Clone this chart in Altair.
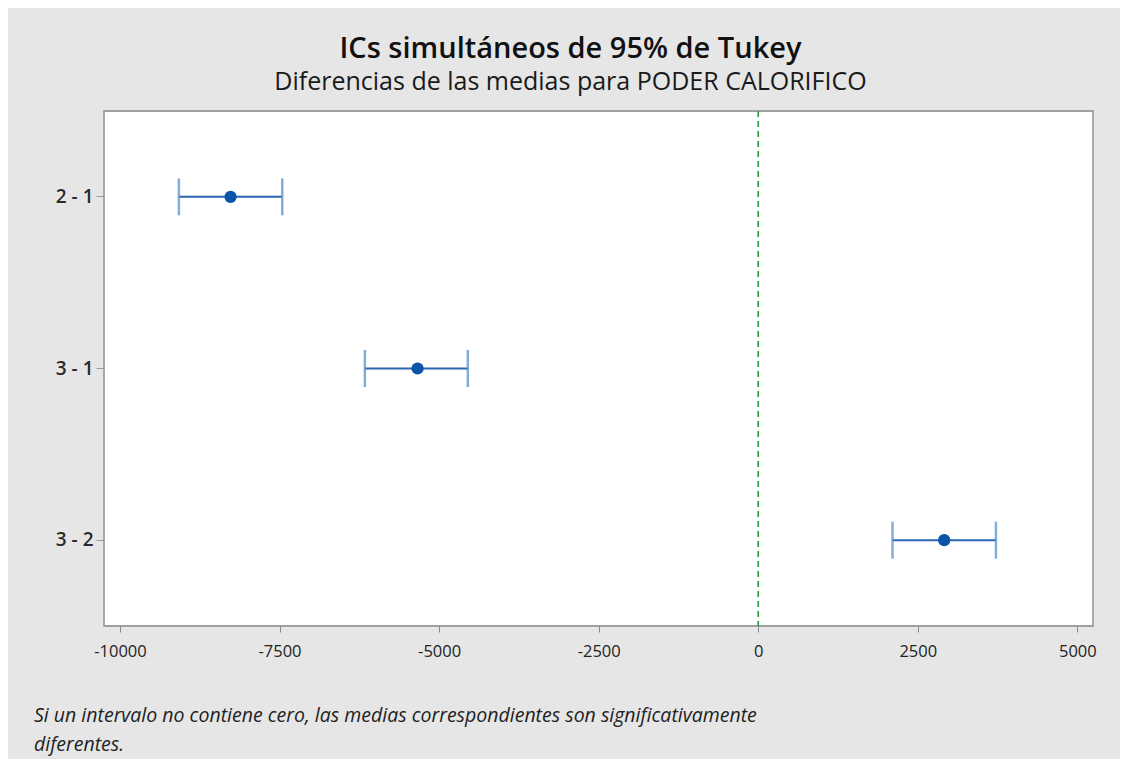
import altair as alt
import pandas as pd

pairs = ["2 - 1", "3 - 1", "3 - 2"]
centers = [-8267, -5337, 2914]
lows = [-9077, -6163, 2104]
highs = [-7457, -4550, 3724]
x_ticks = [-10000, -7500, -5000, -2500, 0, 2500, 5000]

df = pd.DataFrame({"par": pairs, "centro": centers, "inf": lows, "sup": highs})
zero_df = pd.DataFrame({"cero": [0]})
note_df = pd.DataFrame({"nota": ["Si un intervalo no contiene cero, las medias correspondientes son significativamente"]})
note2_df = pd.DataFrame({"nota": ["diferentes."]})

FONT = "Open Sans"
PW, PH = 989, 515

xscale = alt.Scale(domain=[-10250, 5245], nice=False, zero=False)
yscale = alt.Scale(type="band", domain=pairs, paddingInner=0, paddingOuter=0)

xaxis = alt.Axis(values=x_ticks, title=None, grid=False, domain=False, tickSize=6,
                 tickColor="#888888", labelFont=FONT, labelFontSize=16.5, labelColor="#222222",
                 labelPadding=11,
                 labelExpr="datum.value < 0 ? '-' + abs(datum.value) : '' + datum.value")
yaxis = alt.Axis(title=None, grid=False, domain=False, tickSize=8, tickColor="#999999",
                 labelFont=FONT, labelFontSize=19, labelFontWeight=600, labelColor="#2a2a2a",
                 labelPadding=3)

base = alt.Chart(df)

zero_line = alt.Chart(zero_df).mark_rule(color="#22a03c", strokeDash=[6, 4], strokeWidth=1.6).encode(
    x=alt.X("cero:Q", scale=xscale, axis=xaxis)
)

bar = base.mark_rule(color="#2a68b5", strokeWidth=2).encode(
    x=alt.X("inf:Q", scale=xscale, axis=xaxis),
    x2="sup:Q",
    y=alt.Y("par:N", scale=yscale, axis=yaxis, sort=pairs),
)
cap_lo = base.mark_tick(color="#4f8bcd", thickness=2.5, size=37, orient="vertical").encode(
    x=alt.X("inf:Q", scale=xscale),
    y=alt.Y("par:N", scale=yscale, sort=pairs),
)
cap_hi = base.mark_tick(color="#4f8bcd", thickness=2.5, size=37, orient="vertical").encode(
    x=alt.X("sup:Q", scale=xscale),
    y=alt.Y("par:N", scale=yscale, sort=pairs),
)
dot = base.mark_circle(color="#0a55a8", opacity=1, size=150).encode(
    x=alt.X("centro:Q", scale=xscale),
    y=alt.Y("par:N", scale=yscale, sort=pairs),
)

note1 = alt.Chart(note_df).mark_text(font=FONT, fontSize=19.5, fontStyle="italic", color="#222222",
                                     align="left", baseline="middle").encode(
    text="nota:N", x=alt.value(-70), y=alt.value(605)
)
note2 = alt.Chart(note2_df).mark_text(font=FONT, fontSize=19.5, fontStyle="italic", color="#222222",
                                      align="left", baseline="middle").encode(
    text="nota:N", x=alt.value(-70), y=alt.value(634)
)

chart = alt.layer(zero_line, bar, cap_lo, cap_hi, dot, note1, note2).properties(
    width=PW,
    height=PH,
    background="#e6e6e6",
    padding={"left": 96, "top": 103, "right": 27, "bottom": 133},
    autosize=alt.AutoSizeParams(type="none"),
    title=alt.TitleParams(
        text="ICs simultáneos de 95% de Tukey",
        subtitle="Diferencias de las medias para PODER CALORIFICO",
        font=FONT, fontSize=29, fontWeight=600, color="#111111",
        subtitleFont=FONT, subtitleFontSize=25, subtitleColor="#1a1a1a",
        subtitleFontWeight="normal",
        subtitlePadding=6, anchor="middle", dx=-28, offset=15,
    ),
).configure_view(stroke="#a0a0a0", strokeWidth=1.8, fill="white")

chart.save("out.html", embed_options={"renderer": "svg", "actions": False})
